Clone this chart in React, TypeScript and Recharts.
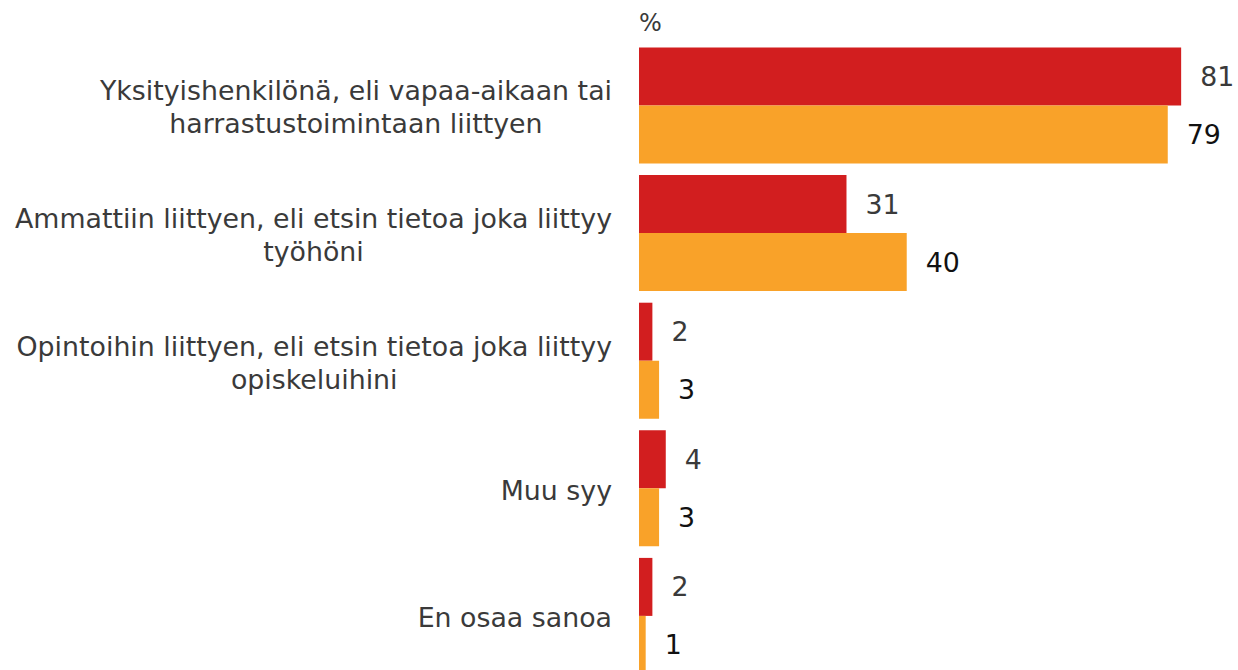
import { BarChart, Bar, XAxis, YAxis, LabelList } from 'recharts';

const categories = [
  'Yksityishenkilönä, eli vapaa-aikaan tai\nharrastustoimintaan liittyen',
  'Ammattiin liittyen, eli etsin tietoa joka liittyy\ntyöhöni',
  'Opintoihin liittyen, eli etsin tietoa joka liittyy\nopiskeluihini',
  'Muu syy',
  'En osaa sanoa',
];
const seriesA = [81, 31, 2, 4, 2];
const seriesB = [79, 40, 3, 3, 1];

const RED = '#d21e1f';
const ORANGE = '#f9a229';
const FONT = '"DejaVu Sans", Verdana, sans-serif';
const LABEL_SIZE = 26.8;

const data = categories.map((name, i) => ({ name, a: seriesA[i], b: seriesB[i] }));

let measureCtx: CanvasRenderingContext2D | null = null;
function measure(text: string) {
  if (!measureCtx) {
    measureCtx = document.createElement('canvas').getContext('2d');
  }
  if (!measureCtx) return text.length * 14;
  measureCtx.font = `${LABEL_SIZE}px ${FONT}`;
  return measureCtx.measureText(text).width;
}

// category label, lines centred on each other, block right-aligned to the axis
const CategoryTick = ({ x, y, payload }: any) => {
  const lines = String(payload.value).split('\n');
  const w = Math.max(...lines.map(measure));
  const cx = x - w / 2;
  return (
    <text x={cx} y={y} textAnchor="middle" fill="#3a3a3a" fontSize={LABEL_SIZE} fontFamily={FONT}>
      {lines.map((l, i) => (
        <tspan key={i} x={cx} y={y + 2 + (i - (lines.length - 1) / 2) * 33} dy="0.36em">{l}</tspan>
      ))}
    </text>
  );
};

export default function App() {
  return (
    <div style={{ position: 'absolute', left: 0, top: 0, width: 1238, height: 670, overflow: 'hidden', background: '#fff' }}>
      <div style={{
        position: 'absolute', left: 639, top: 9, fontSize: 24, color: '#3a3a3a', fontFamily: FONT,
      }}>%</div>
      <BarChart
        width={1238}
        height={700}
        data={data}
        layout="vertical"
        margin={{ top: 41.5, right: 10, left: 0, bottom: 20.5 }}
        barGap={0}
        barSize={58}
      >
        <XAxis type="number" domain={[0, 88]} hide />
        <YAxis
          type="category"
          dataKey="name"
          width={639}
          axisLine={false}
          tickLine={false}
          tickSize={0}
          tickMargin={27}
          tick={<CategoryTick />}
          interval={0}
        />
        <Bar dataKey="a" fill={RED} isAnimationActive={false}>
          <LabelList dataKey="a" position="right" offset={19} fill="#3a3a3a" fontSize={LABEL_SIZE} fontFamily={FONT} />
        </Bar>
        <Bar dataKey="b" fill={ORANGE} isAnimationActive={false}>
          <LabelList dataKey="b" position="right" offset={19} fill="#111" fontSize={LABEL_SIZE} fontFamily={FONT} />
        </Bar>
      </BarChart>
    </div>
  );
}
